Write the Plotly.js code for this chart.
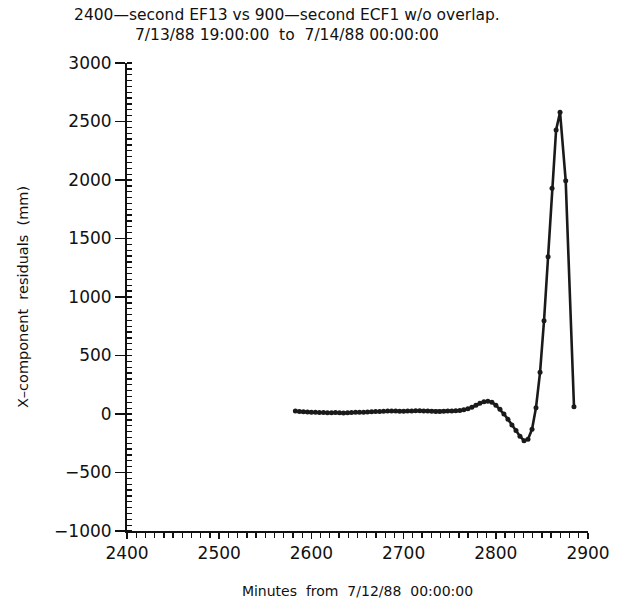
<!DOCTYPE html>
<html>
<head>
<meta charset="utf-8">
<script src="https://cdn.plot.ly/plotly-3.0.1.min.js"></script>
<style>
html,body{margin:0;padding:0;background:#fff;}
#chart{width:621px;height:614px;}
</style>
</head>
<body>
<div id="chart"></div>
<script>
// Minutes from 7/12/88 00:00:00
var minutes = [
  2582.6, 2587.0, 2591.3, 2595.7, 2600.0, 2604.4, 2608.7, 2613.1, 2617.4, 2621.8,
  2626.1, 2630.5, 2634.8, 2639.2, 2643.5, 2647.9, 2652.2, 2656.6, 2660.9, 2665.3,
  2669.6, 2674.0, 2678.3, 2682.7, 2687.0, 2691.4, 2695.7, 2700.1, 2704.4, 2708.8,
  2713.1, 2717.5, 2721.8, 2726.2, 2730.5, 2734.9, 2739.2, 2743.6, 2747.9, 2752.3,
  2756.6, 2761.0, 2765.3, 2769.7, 2774.0, 2778.4, 2782.7, 2787.1, 2791.4, 2795.8,
  2800.1, 2804.5, 2808.8, 2813.2, 2817.5, 2821.9, 2826.2, 2830.6, 2834.9, 2839.3,
  2843.6, 2848.0, 2852.3, 2856.7, 2861.0, 2865.4, 2869.7, 2875.8, 2884.8
];
// X-component residuals (mm)
var residuals = [
  25, 22, 20, 18, 15, 14, 12, 12, 10, 10,
  12, 10, 8, 10, 12, 14, 15, 16, 18, 20,
  22, 22, 24, 25, 26, 25, 24, 24, 25, 26,
  28, 28, 26, 25, 24, 22, 22, 24, 25, 26,
  28, 30, 36, 45, 58, 75, 92, 105, 110, 100,
  75, 40, 0, -45, -95, -140, -190, -228, -215, -131,
  54, 356, 797, 1344, 1929, 2427, 2579, 1994, 62
];
var titleLines = ["2400\u2014second EF13 vs 900\u2014second ECF1 w/o overlap.",
                  "7/13/88 19:00:00 &nbsp;to &nbsp;7/14/88 00:00:00"];
var xTitle = "Minutes &nbsp;from &nbsp;7/12/88 &nbsp;00:00:00";
var yTitle = "X\u2013component &nbsp;residuals &nbsp;(mm)";

var FONT = "DejaVu Sans, Liberation Sans, sans-serif";

var trace = {
  x: minutes, y: residuals,
  type: 'scatter', mode: 'lines+markers',
  line: {color: '#1a1a1a', width: 2.6},
  marker: {color: '#1a1a1a', size: 5},
  hoverinfo: 'skip'
};

var layout = {
  width: 621, height: 614,
  margin: {l: 127, r: 33, t: 63, b: 83},
  paper_bgcolor: '#fff', plot_bgcolor: '#fff',
  showlegend: false,
  font: {family: FONT, color: '#111', size: 15},
  title: {
    text: titleLines.join('<br>'),
    x: 0.462, xref: 'container', xanchor: 'center',
    y: 0.968, yref: 'container', yanchor: 'top',
    font: {family: FONT, size: 15.5, color: '#111'}
  },
  xaxis: {
    range: [2400, 2900], dtick: 100, tick0: 2400,
    showgrid: false, zeroline: false,
    showline: true, linecolor: '#111', linewidth: 2,
    ticks: 'outside', ticklen: 6, tickwidth: 1.5, tickcolor: '#111',
    minor: {dtick: 10, ticks: 'outside', ticklen: 5, tickwidth: 1.3, tickcolor: '#111', showgrid: false},
    tickfont: {family: FONT, size: 17, color: '#111'},
    title: {text: xTitle, standoff: 24, font: {family: FONT, size: 14, color: '#111'}},
    automargin: false
  },
  yaxis: {
    range: [-1000, 3000], dtick: 500, tick0: 0,
    showgrid: false, zeroline: false,
    showline: true, linecolor: '#111', linewidth: 2,
    ticks: 'outside', ticklen: 10, tickwidth: 1.5, tickcolor: '#111',
    minor: {dtick: 50, ticks: 'inside', ticklen: 5, tickwidth: 1.3, tickcolor: '#111', showgrid: false},
    tickfont: {family: FONT, size: 17, color: '#111'},
    title: {text: yTitle, standoff: 22, font: {family: FONT, size: 14.5, color: '#111'}},
    automargin: false
  }
};

Plotly.newPlot('chart', [trace], layout, {displayModeBar: false, staticPlot: true});
</script>
</body>
</html>
